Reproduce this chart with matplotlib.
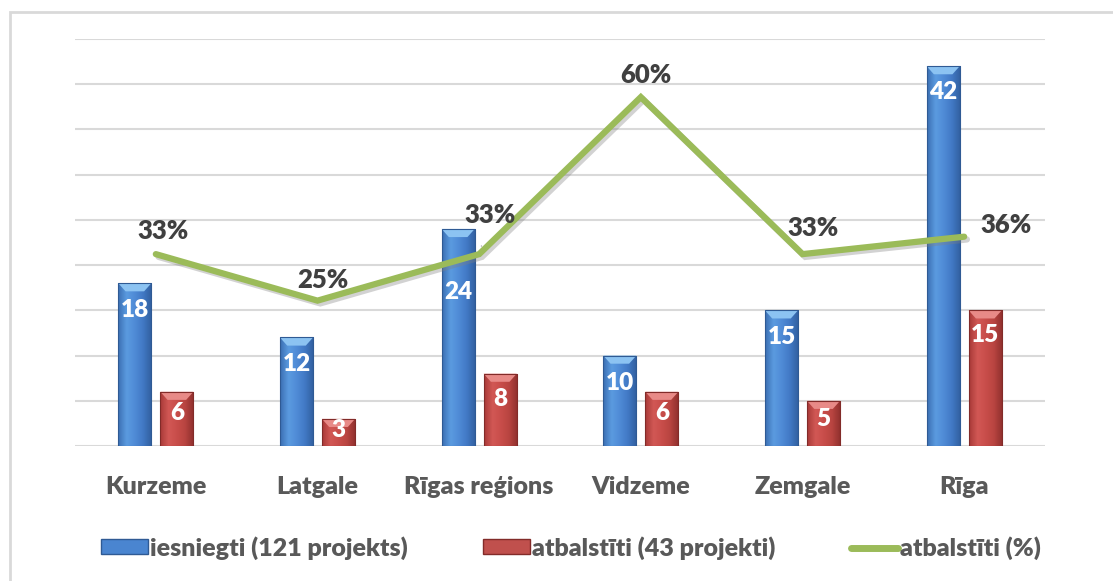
import numpy as np
import matplotlib.pyplot as plt
import matplotlib.patheffects as pe
from matplotlib.patches import Rectangle, Polygon
from matplotlib.lines import Line2D
from matplotlib.colors import LinearSegmentedColormap

# --- data ---
regions = ["Kurzeme", "Latgale", "Rīgas reģions", "Vidzeme", "Zemgale", "Rīga"]
submitted = [18, 12, 24, 10, 15, 42]
supported = [6, 3, 8, 6, 5, 15]
share_pct = [33, 25, 33, 60, 33, 36]
share_labels = ["33%", "25%", "33%", "60%", "33%", "36%"]
legend_labels = ["iesniegti (121 projekts)", "atbalstīti (43 projekti)", "atbalstīti (%)"]

# label offsets for the % labels (px, like the manually moved labels in the original)
pct_offsets = [(7, 23), (5, 21), (11, 39), (5, 22), (11, 26), (42, 12)]
# value label distance below the bar top (px); "24" was pushed down in the original
blue_lbl_drop = [27, 27, 63, 27, 27, 26]

plt.rcParams["font.family"] = ["Lato", "DejaVu Sans"]
W = "heavy"

blue_cmap = LinearSegmentedColormap.from_list(
    "b", ["#3b6fb3", "#5b9be0", "#4f8bd6", "#4178c4", "#315f9e"])
red_cmap = LinearSegmentedColormap.from_list(
    "r", ["#a83a38", "#d25855", "#c84d4a", "#b84440", "#8e2f2d"])

fig = plt.figure(figsize=(11.13, 5.81), dpi=100)
ax = fig.add_axes([75 / 1113, 1 - 446 / 581, 970 / 1113, 407 / 581])

# light frame round the chart (only top/left visible in the crop)
fig.patches.append(Rectangle((10 / 1113, -0.1), 1.2, 1 - 12 / 581 + 0.1,
                             transform=fig.transFigure, fill=False,
                             edgecolor="#d9d9d9", linewidth=2))

x = np.arange(len(regions))
w = 0.205
off = 0.13

grad = np.linspace(0, 1, 64).reshape(1, -1)


def fancy_bars(xs, vals, cmap, top_col, edge):
    bars = ax.bar(xs, vals, width=w, color="none", edgecolor=edge,
                  linewidth=0.8, zorder=3)
    for b in bars:
        x0, x1 = b.get_x(), b.get_x() + b.get_width()
        h = b.get_height()
        im = ax.imshow(grad, extent=(x0, x1, 0, h), aspect="auto",
                       cmap=cmap, zorder=2.5, interpolation="bicubic")
        im.set_clip_path(b)
        d = 0.9
        bw = x1 - x0
        ax.add_patch(Polygon([(x0, h), (x1, h), (x1 - bw * 0.22, h - d),
                              (x0 + bw * 0.22, h - d)], closed=True,
                             facecolor=top_col, edgecolor="none", zorder=2.8))
    return bars


b1 = fancy_bars(x - off, submitted, blue_cmap, "#8cc3f2", "#2f5a94")
b2 = fancy_bars(x + off, supported, red_cmap, "#e88a87", "#822b29")

for b, v, drop in zip(b1, submitted, blue_lbl_drop):
    ax.annotate(str(v), (b.get_x() + b.get_width() / 2, v),
                xytext=(0, -drop / 1.389), textcoords="offset points",
                ha="center", va="center", color="white", fontsize=17.5,
                fontweight=W, zorder=5)
for b, v in zip(b2, supported):
    drop = min(25, v * 9.05 * 0.4)
    ax.annotate(str(v), (b.get_x() + b.get_width() / 2, v),
                xytext=(0, -drop / 1.389), textcoords="offset points",
                ha="center", va="center", color="white", fontsize=17.5,
                fontweight=W, zorder=5)

# secondary axis for the share line
ax2 = ax.twinx()
ax2.set_ylim(0, 70)
ax2.axis("off")
ax2.plot(x, share_pct, color="#9bbb59", linewidth=4.5, solid_capstyle="round",
         solid_joinstyle="miter", zorder=4,
         path_effects=[pe.SimpleLineShadow(offset=(2, -2), shadow_color="gray", alpha=0.35),
                       pe.Normal()])
for i, (xi, yi, lab) in enumerate(zip(x, share_pct, share_labels)):
    dx, dy = pct_offsets[i]
    kw = {}
    if i == 2:
        kw["arrowprops"] = dict(arrowstyle="-", color="#a6a6a6", lw=1,
                                shrinkA=12, shrinkB=6)
    ax2.annotate(lab, (xi, yi), xytext=(dx / 1.389, dy / 1.389),
                 textcoords="offset points", ha="center", va="center",
                 fontsize=18.5, fontweight=W, color="#404040", zorder=6, **kw)

# axes styling (after twinx, which turns the left ticks back on)
ax.set_xlim(-0.5, len(regions) - 0.5)
ax.set_ylim(0, 45)
ax.set_yticks(np.arange(0, 46, 5))
ax.yaxis.grid(True, color="#d9d9d9", linewidth=1.5)
ax.set_axisbelow(True)
ax.tick_params(axis="y", left=False, right=False, labelleft=False, labelright=False)
ax.tick_params(axis="x", bottom=False, pad=18)
for s in ax.spines.values():
    s.set_visible(False)
ax.set_xticks(x)
ax.set_xticklabels(regions, fontsize=18, fontweight=W, color="#595959")

handles = [Rectangle((0, 0), 1, 1, facecolor="#4a85d0", edgecolor="#2f5a94"),
           Rectangle((0, 0), 1, 1, facecolor="#c0504d", edgecolor="#822b29"),
           Line2D([0], [0], color="#9bbb59", linewidth=5, solid_capstyle="round")]
leg = fig.legend(handles, legend_labels, loc="center", bbox_to_anchor=(0.513, 1 - 548 / 581),
                 ncol=3, frameon=False, prop=dict(family="Lato", weight=W, size=18),
                 handlelength=1.9, handleheight=0.55, handletextpad=0.08, columnspacing=3.0)
for t in leg.get_texts():
    t.set_color("#595959")

fig.savefig("out.png", dpi=100)
